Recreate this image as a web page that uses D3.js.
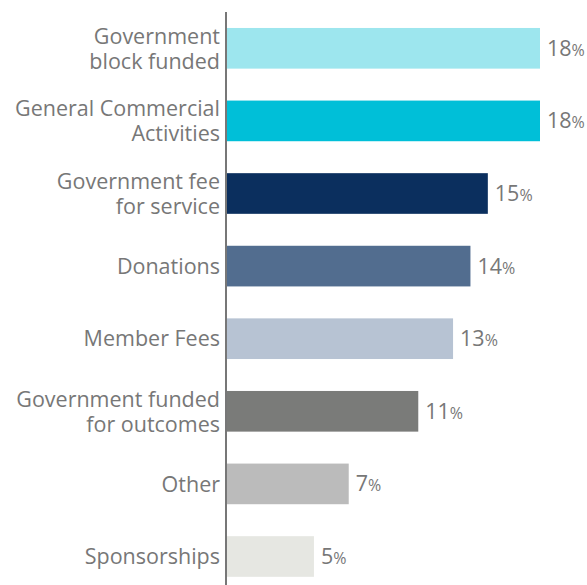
<!DOCTYPE html>
<html>
<head>
<meta charset="utf-8">
<script src="https://cdn.jsdelivr.net/npm/d3@7"></script>
<style>
  html, body { margin: 0; padding: 0; background: #fff; }
  svg { display: block; }
  text { font-family: "Open Sans", "Noto Sans", sans-serif; fill: #777; }
</style>
</head>
<body>
<svg id="chart" width="587" height="585"></svg>
<script>
// Income sources, share of total (%)
const categories = [
  ["Government", "block funded"],
  ["General Commercial", "Activities"],
  ["Government fee", "for service"],
  ["Donations"],
  ["Member Fees"],
  ["Government funded", "for outcomes"],
  ["Other"],
  ["Sponsorships"]
];
const values = [18, 18, 15, 14, 13, 11, 7, 5];
const colors = ["#9de6ee", "#00bfd8", "#0b2f5e", "#526d8f", "#b7c3d3", "#7a7b79", "#bbbbbb", "#e6e7e2"];

const svg = d3.select("#chart");
const ids = d3.range(values.length);

const y = d3.scaleBand()
  .domain(ids)
  .range([12, 592.8])
  .paddingInner(0.44)
  .paddingOuter(0.22);

const x = d3.scaleLinear()
  .domain([0, 18])
  .range([227, 540]);

// bars
svg.append("g").selectAll("rect")
  .data(ids)
  .join("rect")
  .attr("x", x(0))
  .attr("y", i => y(i))
  .attr("width", i => x(values[i]) - x(0))
  .attr("height", y.bandwidth())
  .attr("fill", i => colors[i]);

// vertical axis line
svg.append("line")
  .attr("x1", 226).attr("x2", 226)
  .attr("y1", 12).attr("y2", 585)
  .attr("stroke", "#777")
  .attr("stroke-width", 2);

// category labels, wrapped lines centred on each bar
const catSize = 21.5;
const lineH = 25;
const cats = svg.append("g").selectAll("text")
  .data(ids)
  .join("text")
  .attr("text-anchor", "end")
  .attr("font-size", catSize);
cats.each(function(i) {
  const lines = categories[i];
  const t = d3.select(this);
  const mid = y(i) + y.bandwidth() / 2 + catSize * 0.36;
  lines.forEach((ln, k) => {
    t.append("tspan")
      .attr("x", 220)
      .attr("y", mid + (k - (lines.length - 1) / 2) * lineH)
      .text(ln);
  });
});

// value labels
const vals = svg.append("g").selectAll("text")
  .data(ids)
  .join("text")
  .attr("x", i => x(values[i]) + 7)
  .attr("y", i => y(i) + y.bandwidth() / 2 + 7.5);
vals.append("tspan").attr("font-size", 21.5).text(i => values[i]);
vals.append("tspan").attr("font-size", 16).text("%");
</script>
</body>
</html>
